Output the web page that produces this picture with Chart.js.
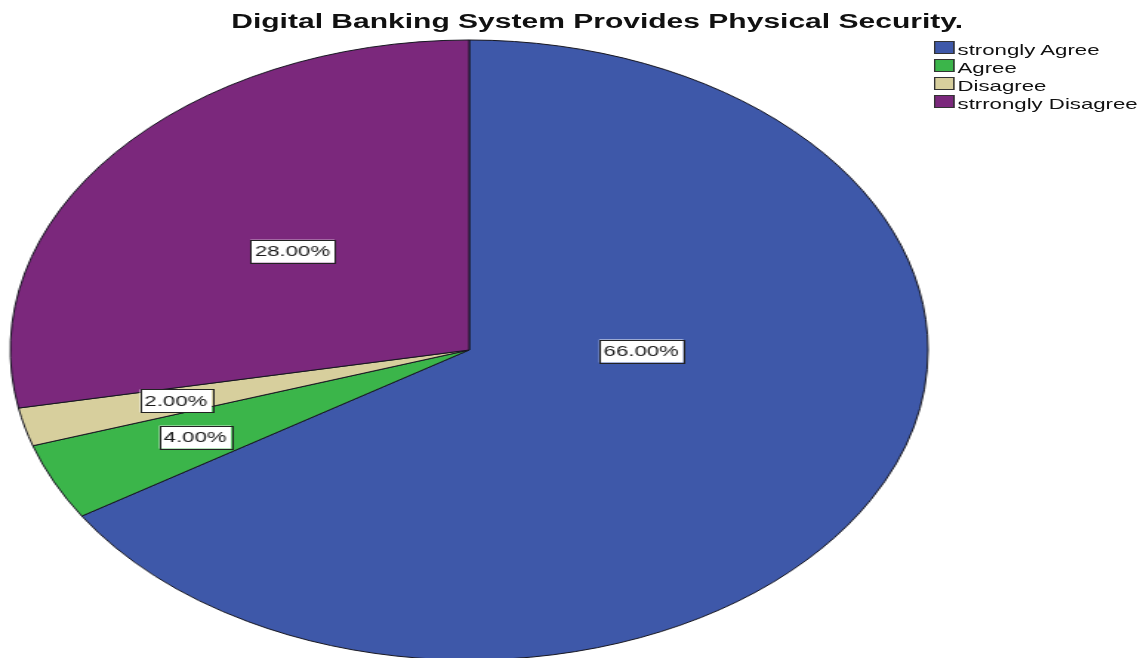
<!DOCTYPE html>
<html>
<head>
<meta charset="utf-8">
<title>Digital Banking System Provides Physical Security.</title>
<script src="https://cdn.jsdelivr.net/npm/chart.js@4/dist/chart.umd.min.js"></script>
<style>
html, body { margin: 0; padding: 0; background: #fff; overflow: hidden; }
/* the whole figure is drawn narrow and then stretched sideways */
#wrap { position: relative; width: 771px; height: 658px; transform: scaleX(1.48); transform-origin: 0 0; }
#pie { position: absolute; left: 0; top: 0; }
#title { position: absolute; left: 0; top: 9px; width: 807px; text-align: center;
  font: bold 20.3px "Liberation Sans", Arial, sans-serif; line-height: 24px; color: #111; white-space: nowrap; }
#legend { position: absolute; left: 631px; top: 41px; font: 15px "Liberation Sans", Arial, sans-serif; color: #111; }
#legend .row { height: 18px; line-height: 18px; white-space: nowrap; position: relative; padding-left: 16px; }
#legend .box { position: absolute; left: 0; top: 0; width: 11.5px; height: 11px; border: 1px solid #333; }
</style>
</head>
<body>
<div id="wrap">
  <canvas id="pie" width="771" height="658"></canvas>
  <div id="title">Digital Banking System Provides Physical Security.</div>
  <div id="legend"></div>
</div>
<script>
const categories = ['strongly Agree', 'Agree', 'Disagree', 'strrongly Disagree'];
const percents = [66, 4, 2, 28];
const sliceColors = ['#3e58a9', '#3bb54a', '#d7cf9d', '#7b287c'];

// where each value box sits: fraction of the radius, and a turn off the mid-angle (degrees)
const labelRadius = [0.375, 0.66, 0.66, 0.5];
const labelTurn = [-28.3, 0, 0, 0];

// legend
const legendEl = document.getElementById('legend');
categories.forEach((c, i) => {
    const row = document.createElement('div');
    row.className = 'row';
    row.innerHTML = '<span class="box" style="background:' + sliceColors[i] + '"></span>' + c;
    legendEl.appendChild(row);
});

// white value boxes on each slice
const valueBoxes = {
    id: 'valueBoxes',
    afterDatasetsDraw(chart) {
        const ctx = chart.ctx;
        const meta = chart.getDatasetMeta(0);
        ctx.save();
        ctx.font = '15px "Liberation Sans", Arial, sans-serif';
        ctx.textAlign = 'center';
        ctx.textBaseline = 'middle';
        meta.data.forEach((arc, i) => {
            const p = arc.getProps(['x', 'y', 'startAngle', 'endAngle', 'outerRadius'], true);
            const mid = (p.startAngle + p.endAngle) / 2 + labelTurn[i] * Math.PI / 180;
            const r = p.outerRadius * labelRadius[i];
            const x = p.x + Math.cos(mid) * r;
            const y = p.y + Math.sin(mid) * r;
            const txt = percents[i].toFixed(2) + '%';
            const w = ctx.measureText(txt).width + 6;
            const h = 23;
            ctx.fillStyle = '#fff';
            ctx.fillRect(x - w / 2, y - h / 2, w, h);
            ctx.strokeStyle = '#222';
            ctx.lineWidth = 1;
            ctx.strokeRect(Math.round(x - w / 2) + 0.5, Math.round(y - h / 2) + 0.5, Math.round(w), h);
            ctx.fillStyle = '#1a1a1a';
            ctx.fillText(txt, x, y + 1);
        });
        ctx.restore();
    }
};

new Chart(document.getElementById('pie'), {
    type: 'pie',
    data: {
        labels: categories,
        datasets: [{
            data: percents,
            backgroundColor: sliceColors,
            borderColor: '#15151f',
            borderWidth: 1,
            radius: 310,
            clip: false
        }]
    },
    options: {
        responsive: false,
        animation: false,
        events: [],
        layout: { padding: { top: 42, bottom: 0, left: 0, right: 137 } },
        plugins: { legend: { display: false }, tooltip: { enabled: false }, title: { display: false } }
    },
    plugins: [valueBoxes]
});
</script>
</body>
</html>
